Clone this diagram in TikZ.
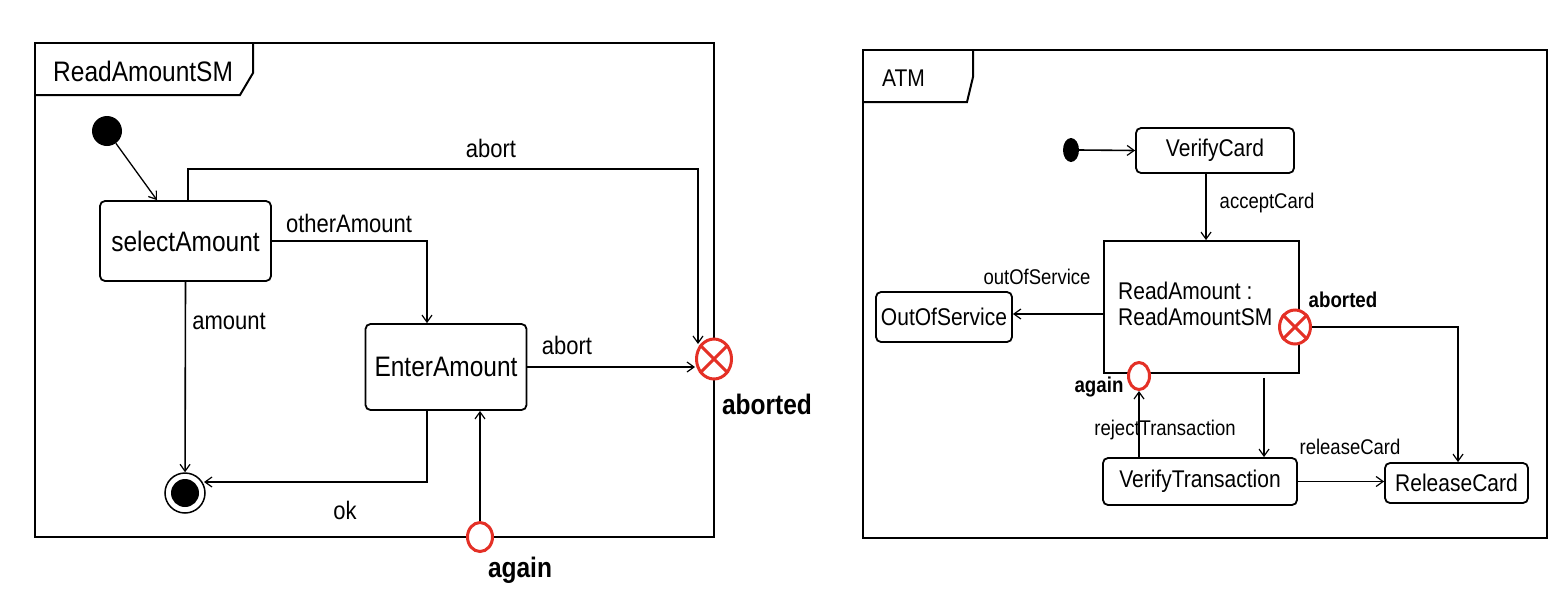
\documentclass[tikz,border=0pt]{standalone}
\usepackage{fontspec}
\setmainfont{Liberation Sans}
\usetikzlibrary{arrows.meta,shapes.geometric}
\definecolor{umlred}{RGB}{228,48,38}
\newcommand\stt[1]{\raisebox{-1.5pt}{\scalebox{1}[1.15]{#1}}}
\tikzset{
  frm/.style={line width=2pt},
  stbox/.style={draw, line width=1.8pt, rounded corners=5pt, inner sep=0pt},
  sqbox/.style={draw, line width=1.8pt, inner sep=0pt},
  arr/.style={line width=1.6pt, -{Straight Barb[length=7pt,width=10pt,line width=1.2pt]}},
  Lst/.style={font=\fontsize{24.5}{27}\selectfont},
  Llab/.style={font=\fontsize{22}{25}\selectfont, inner sep=0pt},
  Lbold/.style={font=\fontsize{24.5}{27}\selectfont\bfseries, inner sep=0pt},
  Rst/.style={font=\fontsize{21}{23}\selectfont},
  Rlab/.style={font=\fontsize{18.5}{21}\selectfont, inner sep=0pt},
  Rbold/.style={font=\fontsize{18.7}{21}\selectfont\bfseries, inner sep=0pt},
  pseudo/.style={ellipse, draw=umlred, line width=3pt, fill=white, inner sep=0pt},
}
\begin{document}
\begin{tikzpicture}[x=1pt,y=-1pt]
\useasboundingbox (0,0) rectangle (1568,590);
\fill[white] (0,0) rectangle (1568,590);

% ================= Left: ReadAmountSM =================
\draw[frm] (35,43) rectangle (714,537);
\draw[frm] (35,95) -- (240,95) -- (253,73) -- (253,43);
\node[Lst, anchor=west, inner sep=0pt] (titleL) at (53,71) {\stt{ReadAmountSM}};

\node[circle, fill=black, minimum size=30pt, inner sep=0pt] (initL) at (107,131) {};
\node[stbox, Lst, minimum width=171pt, minimum height=80pt] (selA) at (185.5,241) {\stt{selectAmount}};
\node[stbox, Lst, minimum width=161pt, minimum height=86pt] (entA) at (446,367) {\stt{EnterAmount}};
\node[circle, draw, line width=1.5pt, minimum size=40pt, inner sep=0pt] (finalL) at (185,493) {};
\node[circle, fill=black, minimum size=28pt, inner sep=0pt] (finalLin) at (185,493) {};

\node[pseudo, minimum width=35pt, minimum height=40pt] (abortL) at (714,359) {};
\draw[umlred, line width=3pt] (abortL.45) -- (abortL.225) (abortL.135) -- (abortL.315);
\node[pseudo, minimum width=25pt, minimum height=29pt] (againL) at (480,537) {};

\coordinate (c1) at (188,169);
\coordinate (c2) at (698,169);
\coordinate (abTopEnd) at (698,344);
\coordinate (okEnd) at (204,482);

\draw[arr, line width=1.3pt] (initL) -- ([xshift=-28.5pt]selA.north);
\draw[arr] (selA.north -| c1) -- (c1) -- (c2) -- (abTopEnd);
\node[Llab] (lab1) at (491,148) {\stt{abort}};
\draw[arr] (selA.east) -| ([xshift=-19pt]entA.north);
\node[Llab] (lab2) at (349,223) {\stt{otherAmount}};
\draw[arr] (selA.south) -- (finalL);
\node[Llab] (lab3) at (229,321) {\stt{amount}};
\draw[arr] (entA.east) -- (entA.east -| abortL.west);
\node[Llab] (lab4) at (567,345) {\stt{abort}};
\draw[arr] ([xshift=-19pt]entA.south) |- (okEnd);
\node[Llab] (lab5) at (345,510) {\stt{ok}};
\draw[arr] (againL) -- (againL |- entA.south);
\node[Lbold] (lab6) at (767,404) {\stt{aborted}};
\node[Lbold] (lab7) at (520,570) {\stt{again}};

% ================= Right: ATM =================
\draw[frm] (863,50) rectangle (1547,538);
\draw[frm] (863,102) -- (967,102) -- (973,77) -- (973,50);
\node[Rst, anchor=west, inner sep=0pt] (titleR) at (882,78) {\stt{ATM}};

\node[ellipse, fill=black, minimum width=16pt, minimum height=24pt, inner sep=0pt] (initR) at (1071,150) {};
\node[stbox, Rst, minimum width=158pt, minimum height=45pt] (vCard) at (1215,150.5) {\stt{VerifyCard}};
\node[sqbox, minimum width=195pt, minimum height=132pt] (readA) at (1201.5,307) {};
\node[Rst, anchor=west, align=left, inner sep=0pt] (readAtxt) at (1118,304) {\stt{ReadAmount :}\\[3pt]\stt{ReadAmountSM}};
\node[stbox, Rst, minimum width=136pt, minimum height=50pt] (oos) at (944,317) {\stt{OutOfService}};
\node[stbox, Rst, minimum width=194pt, minimum height=47pt] (vTrans) at (1200,481.5) {\stt{VerifyTransaction}};
\node[stbox, Rst, minimum width=143pt, minimum height=40pt] (relC) at (1456.5,483) {\stt{ReleaseCard}};

\node[pseudo, minimum width=31pt, minimum height=34pt] (abortR) at (1295,327) {};
\draw[umlred, line width=3pt] (abortR.45) -- (abortR.225) (abortR.135) -- (abortR.315);
\node[pseudo, minimum width=21pt, minimum height=27pt] (againR) at (1139,376) {};

\draw[arr] (initR.east) -- (vCard.west);
\draw[arr] ([xshift=-9pt]vCard.south) -- ([xshift=-9pt]vCard.south |- readA.north);
\node[Rlab] (lab8) at (1267,203) {\stt{acceptCard}};
\draw[arr] ([yshift=-7pt]readA.west) -- ([yshift=-7pt]readA.west -| oos.east);
\node[Rlab] (lab9) at (1037,277) {\stt{outOfService}};
\draw[arr] (abortR.east) -| ([xshift=1.5pt]relC.north);
\node[Rbold] (lab10) at (1343,300) {\stt{aborted}};
\draw[arr] ([xshift=62.5pt,yshift=-4pt]readA.south) -- ([xshift=62.5pt]readA.south |- vTrans.north);
\draw[arr] (vTrans.north -| againR) -- (againR);
\node[Rlab] (lab11) at (1165,430) {\stt{rejectTransaction}};
\node[Rbold] (lab12) at (1099,387) {\stt{again}};
\draw[arr] (vTrans.east) -- (vTrans.east -| relC.west);
\node[Rlab] (lab13) at (1350,447) {\stt{releaseCard}};
\end{tikzpicture}
\end{document}
